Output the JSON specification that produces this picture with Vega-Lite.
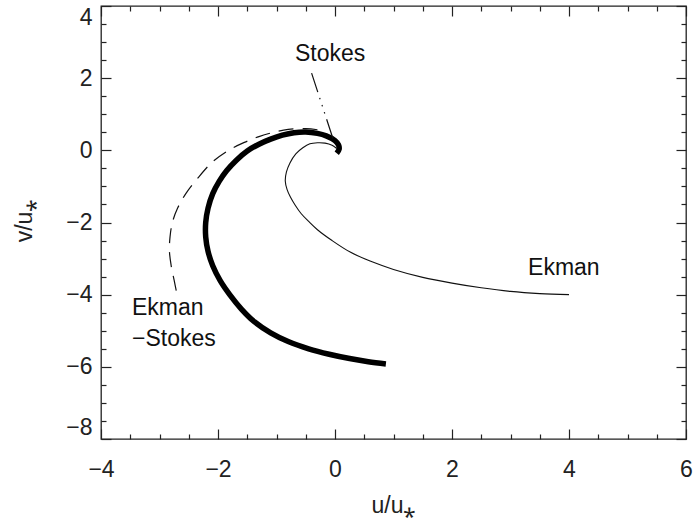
{
  "$schema": "https://vega.github.io/schema/vega-lite/v6.json",
  "width": 585,
  "height": 433,
  "autosize": {"type": "none"},
  "padding": {"left": 101, "top": 6, "right": 7, "bottom": 83},
  "background": "white",
  "config": {
    "view": {"stroke": "#222", "strokeWidth": 1.3},
    "font": "Liberation Sans",
    "axis": {
      "grid": false,
      "domain": false,
      "tickColor": "#222",
      "tickWidth": 1.2,
      "labelColor": "#222",
      "titleColor": "#222",
      "labelFont": "Liberation Sans",
      "titleFont": "Liberation Sans",
      "labelFontSize": 23,
      "titleFontSize": 23,
      "titleFontWeight": "normal",
      "labelFlush": false,
      "labelOverlap": false
    }
  },
  "datasets": {
    "curves": [
      {"series": "E", "i": 0, "u": 0.03, "v": 0.05},
      {"series": "E", "i": 1, "u": -0.05, "v": 0.14},
      {"series": "E", "i": 2, "u": -0.17, "v": 0.2},
      {"series": "E", "i": 3, "u": -0.3, "v": 0.21},
      {"series": "E", "i": 4, "u": -0.43, "v": 0.18},
      {"series": "E", "i": 5, "u": -0.55, "v": 0.07},
      {"series": "E", "i": 6, "u": -0.67, "v": -0.1},
      {"series": "E", "i": 7, "u": -0.77, "v": -0.35},
      {"series": "E", "i": 8, "u": -0.83, "v": -0.6},
      {"series": "E", "i": 9, "u": -0.85, "v": -0.85},
      {"series": "E", "i": 10, "u": -0.82, "v": -1.08},
      {"series": "E", "i": 11, "u": -0.76, "v": -1.3},
      {"series": "E", "i": 12, "u": -0.68, "v": -1.52},
      {"series": "E", "i": 13, "u": -0.58, "v": -1.75},
      {"series": "E", "i": 14, "u": -0.45, "v": -1.97},
      {"series": "E", "i": 15, "u": -0.3, "v": -2.2},
      {"series": "E", "i": 16, "u": -0.05, "v": -2.5},
      {"series": "E", "i": 17, "u": 0.26, "v": -2.82},
      {"series": "E", "i": 18, "u": 0.6, "v": -3.07},
      {"series": "E", "i": 19, "u": 1.0, "v": -3.3},
      {"series": "E", "i": 20, "u": 1.5, "v": -3.52},
      {"series": "E", "i": 21, "u": 2.0, "v": -3.68},
      {"series": "E", "i": 22, "u": 2.5, "v": -3.81},
      {"series": "E", "i": 23, "u": 3.0, "v": -3.91},
      {"series": "E", "i": 24, "u": 3.5, "v": -3.97},
      {"series": "E", "i": 25, "u": 4.0, "v": -4.0},
      {"series": "ES", "i": 0, "u": 0.03, "v": -0.08},
      {"series": "ES", "i": 1, "u": 0.07, "v": 0.03},
      {"series": "ES", "i": 2, "u": 0.06, "v": 0.15},
      {"series": "ES", "i": 3, "u": 0.0, "v": 0.27},
      {"series": "ES", "i": 4, "u": -0.15, "v": 0.4},
      {"series": "ES", "i": 5, "u": -0.3, "v": 0.47},
      {"series": "ES", "i": 6, "u": -0.5, "v": 0.51},
      {"series": "ES", "i": 7, "u": -0.7, "v": 0.49},
      {"series": "ES", "i": 8, "u": -0.9, "v": 0.42},
      {"series": "ES", "i": 9, "u": -1.1, "v": 0.31},
      {"series": "ES", "i": 10, "u": -1.3, "v": 0.17},
      {"series": "ES", "i": 11, "u": -1.5, "v": -0.02},
      {"series": "ES", "i": 12, "u": -1.69, "v": -0.28},
      {"series": "ES", "i": 13, "u": -1.85, "v": -0.56},
      {"series": "ES", "i": 14, "u": -1.98, "v": -0.86},
      {"series": "ES", "i": 15, "u": -2.09, "v": -1.2},
      {"series": "ES", "i": 16, "u": -2.17, "v": -1.6},
      {"series": "ES", "i": 17, "u": -2.21, "v": -2.0},
      {"series": "ES", "i": 18, "u": -2.21, "v": -2.4},
      {"series": "ES", "i": 19, "u": -2.17, "v": -2.8},
      {"series": "ES", "i": 20, "u": -2.09, "v": -3.2},
      {"series": "ES", "i": 21, "u": -1.96, "v": -3.62},
      {"series": "ES", "i": 22, "u": -1.8, "v": -4.0},
      {"series": "ES", "i": 23, "u": -1.6, "v": -4.4},
      {"series": "ES", "i": 24, "u": -1.38, "v": -4.75},
      {"series": "ES", "i": 25, "u": -1.1, "v": -5.06},
      {"series": "ES", "i": 26, "u": -0.8, "v": -5.3},
      {"series": "ES", "i": 27, "u": -0.45, "v": -5.5},
      {"series": "ES", "i": 28, "u": -0.1, "v": -5.65},
      {"series": "ES", "i": 29, "u": 0.25, "v": -5.77},
      {"series": "ES", "i": 30, "u": 0.57, "v": -5.86},
      {"series": "ES", "i": 31, "u": 0.87, "v": -5.92},
      {"series": "D", "i": 0, "u": -0.3, "v": 0.57},
      {"series": "D", "i": 1, "u": -0.5, "v": 0.6},
      {"series": "D", "i": 2, "u": -0.8, "v": 0.58},
      {"series": "D", "i": 3, "u": -1.05, "v": 0.5},
      {"series": "D", "i": 4, "u": -1.3, "v": 0.38},
      {"series": "D", "i": 5, "u": -1.55, "v": 0.22},
      {"series": "D", "i": 6, "u": -1.82, "v": 0.0},
      {"series": "D", "i": 7, "u": -2.1, "v": -0.33},
      {"series": "D", "i": 8, "u": -2.35, "v": -0.78},
      {"series": "D", "i": 9, "u": -2.55, "v": -1.2},
      {"series": "D", "i": 10, "u": -2.69, "v": -1.6},
      {"series": "D", "i": 11, "u": -2.78, "v": -2.0},
      {"series": "D", "i": 12, "u": -2.82, "v": -2.4},
      {"series": "D", "i": 13, "u": -2.83, "v": -2.8},
      {"series": "D", "i": 14, "u": -2.8, "v": -3.2},
      {"series": "D", "i": 15, "u": -2.75, "v": -3.6},
      {"series": "D", "i": 16, "u": -2.7, "v": -4.0},
      {"series": "S", "i": 0, "u": -0.4, "v": 2.14},
      {"series": "S", "i": 1, "u": -0.03, "v": 0.3}
    ],
    "labels": [
      {"label": "Stokes", "u": -0.684, "v": 2.67},
      {"label": "Ekman", "u": 3.3, "v": -3.26},
      {"label": "Ekman", "u": -3.47, "v": -4.37},
      {"label": "−Stokes", "u": -3.47, "v": -5.23}
    ]
  },
  "resolve": {"axis": {"x": "independent", "y": "independent"}},
  "layer": [
    {
      "data": {"name": "curves"},
      "transform": [{"filter": "datum.series === 'E'"}],
      "mark": {"type": "line", "color": "#111", "strokeWidth": 1.1, "interpolate": "catmull-rom"},
      "encoding": {
        "x": {"field": "u", "type": "quantitative", "scale": {"domain": [-4, 6], "nice": false, "zero": false},
          "axis": {"orient": "bottom", "values": [-4, -2, 0, 2, 4, 6], "ticks": false, "labelPadding": 19, "title": "u/u⁎", "titleBaseline": "alphabetic", "titleY": 73}},
        "y": {"field": "v", "type": "quantitative", "scale": {"domain": [-8, 4], "nice": false, "zero": false},
          "axis": {"orient": "left", "values": [-8, -6, -4, -2, 0, 2, 4], "ticks": false, "labelPadding": 9, "labelFlush": true, "title": "v/u⁎", "titleAngle": -90, "titleBaseline": "alphabetic", "titleX": -70, "titleY": 214}},
        "order": {"field": "i", "type": "quantitative"}
      }
    },
    {
      "data": {"name": "curves"},
      "transform": [{"filter": "datum.series === 'ES'"}],
      "mark": {"type": "line", "color": "#000", "strokeWidth": 5.5, "interpolate": "catmull-rom"},
      "encoding": {
        "x": {"field": "u", "type": "quantitative", "scale": {"domain": [-4, 6], "nice": false, "zero": false},
          "axis": {"orient": "bottom", "values": [-4, -2, 0, 2, 4, 6], "labels": false, "tickSize": -10, "title": null}},
        "y": {"field": "v", "type": "quantitative", "scale": {"domain": [-8, 4], "nice": false, "zero": false},
          "axis": {"orient": "left", "values": [-8, -6, -4, -2, 0, 2, 4], "labels": false, "tickSize": -10, "title": null}},
        "order": {"field": "i", "type": "quantitative"}
      }
    },
    {
      "data": {"name": "curves"},
      "transform": [{"filter": "datum.series === 'D'"}],
      "mark": {"type": "line", "color": "#111", "strokeWidth": 1.2, "strokeDash": [15, 9], "interpolate": "catmull-rom"},
      "encoding": {
        "x": {"field": "u", "type": "quantitative", "scale": {"domain": [-4, 6], "nice": false, "zero": false},
          "axis": {"orient": "bottom", "values": [-3.5, -3, -2.5, -1.5, -1, -0.5, 0.5, 1, 1.5, 2.5, 3, 3.5, 4.5, 5, 5.5], "labels": false, "tickSize": -5, "title": null}},
        "y": {"field": "v", "type": "quantitative", "scale": {"domain": [-8, 4], "nice": false, "zero": false},
          "axis": {"orient": "left", "values": [-7.5, -7, -6.5, -5.5, -5, -4.5, -3.5, -3, -2.5, -1.5, -1, -0.5, 0.5, 1, 1.5, 2.5, 3, 3.5], "labels": false, "tickSize": -5, "title": null}},
        "order": {"field": "i", "type": "quantitative"}
      }
    },
    {
      "data": {"name": "curves"},
      "transform": [{"filter": "datum.series === 'S'"}],
      "mark": {"type": "line", "color": "#111", "strokeWidth": 1.2, "strokeDash": [20, 6, 1.5, 6, 1.5, 6, 1.5, 6]},
      "encoding": {
        "x": {"field": "u", "type": "quantitative", "scale": {"domain": [-4, 6], "nice": false, "zero": false},
          "axis": {"orient": "top", "values": [-4, -2, 0, 2, 4, 6], "labels": false, "tickSize": -10, "title": null}},
        "y": {"field": "v", "type": "quantitative", "scale": {"domain": [-8, 4], "nice": false, "zero": false},
          "axis": {"orient": "right", "values": [-8, -6, -4, -2, 0, 2, 4], "labels": false, "tickSize": -10, "title": null}},
        "order": {"field": "i", "type": "quantitative"}
      }
    },
    {
      "data": {"name": "labels"},
      "mark": {"type": "text", "align": "left", "baseline": "middle", "fontSize": 23, "font": "Liberation Sans", "color": "#111"},
      "encoding": {
        "x": {"field": "u", "type": "quantitative", "scale": {"domain": [-4, 6], "nice": false, "zero": false},
          "axis": {"orient": "top", "values": [-3.5, -3, -2.5, -1.5, -1, -0.5, 0.5, 1, 1.5, 2.5, 3, 3.5, 4.5, 5, 5.5], "labels": false, "tickSize": -5, "title": null}},
        "y": {"field": "v", "type": "quantitative", "scale": {"domain": [-8, 4], "nice": false, "zero": false},
          "axis": {"orient": "right", "values": [-7.5, -7, -6.5, -5.5, -5, -4.5, -3.5, -3, -2.5, -1.5, -1, -0.5, 0.5, 1, 1.5, 2.5, 3, 3.5], "labels": false, "tickSize": -5, "title": null}},
        "text": {"field": "label", "type": "nominal"}
      }
    }
  ]
}
